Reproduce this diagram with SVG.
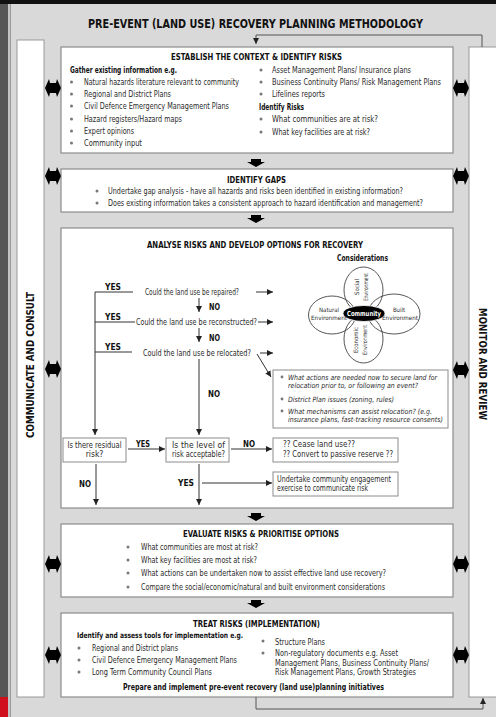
<svg xmlns="http://www.w3.org/2000/svg" width="496" height="717" viewBox="0 0 496 717">
<style>
text{font-family:"Liberation Sans Narrow","DejaVu Sans Condensed","Liberation Sans",sans-serif;fill:#2a2a2a}
.t{font-size:8.5px}
.b{font-size:8.5px;font-weight:bold;fill:#111}
.h{font-size:9.5px;font-weight:bold;fill:#111}
.i{font-size:7.2px;font-style:italic}
.yn{font-size:9px;font-weight:bold;fill:#111}
.s{font-size:6px}
.box{fill:#fff;stroke:#8c8c8c;stroke-width:1.2}
.sbox{fill:#fff;stroke:#8c8c8c;stroke-width:1}
.col{fill:#fff;stroke:#9a9a9a;stroke-width:1}
.dot{fill:#777}
.ln{fill:none;stroke:#333;stroke-width:1}
.fb{fill:none;stroke:#555;stroke-width:1}
.pet{fill:none;stroke:#444;stroke-width:0.9}
</style>
<defs>
<marker id="ah" markerUnits="userSpaceOnUse" markerWidth="7" markerHeight="7" refX="6" refY="3" orient="auto"><path d="M0,0 L6,3 L0,6 z" fill="#222"/></marker>
<path id="bat" d="M-8,0 L-4,-9 L-3,-5 L3,-5 L4,-9 L8,0 L4,9 L3,5 L-3,5 L-4,9 Z" fill="#000"/>
<path id="blk" d="M-5,0 H5 V3 H9 L0,8 L-9,3 H-5 Z" fill="#000"/>
</defs>

<!-- background -->
<rect x="0" y="0" width="496" height="717" fill="#d9d9d9"/>
<rect x="0" y="0" width="8" height="717" fill="#565656"/>
<rect x="8" y="0" width="2" height="717" fill="#c4c4c4"/>
<line x1="10.5" y1="0" x2="10.5" y2="717" stroke="#9a9a9a"/>
<rect x="0" y="0" width="496" height="4" fill="#111"/>
<rect x="0" y="697" width="8" height="20" fill="#d0101c"/>

<text x="255.5" y="27.5" text-anchor="middle" textLength="335" lengthAdjust="spacingAndGlyphs" style="font-size:13px;font-weight:bold;fill:#111">PRE-EVENT (LAND USE) RECOVERY PLANNING METHODOLOGY</text>

<!-- side columns -->
<g id="communicate">
<rect class="col" x="17" y="40" width="27" height="657"/>
<text transform="translate(34,365) rotate(-90)" text-anchor="middle" textLength="146" lengthAdjust="spacingAndGlyphs" style="font-size:10.5px;font-weight:bold;fill:#111">COMMUNICATE AND CONSULT</text>
</g>
<g id="monitor">
<rect class="col" x="469" y="47" width="30" height="650"/>
<text transform="translate(479,364) rotate(90)" text-anchor="middle" textLength="112" lengthAdjust="spacingAndGlyphs" style="font-size:10.5px;font-weight:bold;fill:#111">MONITOR AND REVIEW</text>
</g>

<!-- box 1 -->
<g id="establish">
<rect class="box" x="61" y="47" width="392" height="106"/>
<text class="h" x="256.5" y="60" text-anchor="middle" textLength="171" lengthAdjust="spacingAndGlyphs">ESTABLISH THE CONTEXT &amp; IDENTIFY RISKS</text>
<text class="b" x="70" y="73" textLength="107" lengthAdjust="spacingAndGlyphs">Gather existing information e.g.</text>
<circle class="dot" cx="71.5" cy="82" r="1.5"/><circle class="dot" cx="71.5" cy="94" r="1.5"/><circle class="dot" cx="71.5" cy="106" r="1.5"/><circle class="dot" cx="71.5" cy="119" r="1.5"/><circle class="dot" cx="71.5" cy="131" r="1.5"/><circle class="dot" cx="71.5" cy="143" r="1.5"/>
<text class="t" x="84" y="85" textLength="155" lengthAdjust="spacingAndGlyphs">Natural hazards literature relevant to community</text>
<text class="t" x="84" y="97" textLength="87" lengthAdjust="spacingAndGlyphs">Regional and District Plans</text>
<text class="t" x="84" y="109" textLength="145" lengthAdjust="spacingAndGlyphs">Civil Defence Emergency Management Plans</text>
<text class="t" x="84" y="122" textLength="98" lengthAdjust="spacingAndGlyphs">Hazard registers/Hazard maps</text>
<text class="t" x="84" y="134" textLength="50" lengthAdjust="spacingAndGlyphs">Expert opinions</text>
<text class="t" x="84" y="146" textLength="58" lengthAdjust="spacingAndGlyphs">Community  input</text>
<circle class="dot" cx="261" cy="70" r="1.5"/><circle class="dot" cx="261" cy="82" r="1.5"/><circle class="dot" cx="261" cy="94" r="1.5"/><circle class="dot" cx="261" cy="119" r="1.5"/><circle class="dot" cx="261" cy="132" r="1.5"/>
<text class="t" x="272" y="73" textLength="139" lengthAdjust="spacingAndGlyphs">Asset Management Plans/ Insurance plans</text>
<text class="t" x="272" y="85" textLength="169" lengthAdjust="spacingAndGlyphs">Business Continuity Plans/ Risk Management Plans</text>
<text class="t" x="272" y="97" textLength="53" lengthAdjust="spacingAndGlyphs">Lifelines reports</text>
<text class="b" x="259" y="110" textLength="45" lengthAdjust="spacingAndGlyphs">Identify Risks</text>
<text class="t" x="272" y="122" textLength="106" lengthAdjust="spacingAndGlyphs">What communities are at risk?</text>
<text class="t" x="272" y="135" textLength="98" lengthAdjust="spacingAndGlyphs">What key facilities are at risk?</text>
</g>

<!-- box 2 -->
<g id="gaps">
<rect class="box" x="61" y="169" width="392" height="43"/>
<text class="h" x="256.5" y="182.5" text-anchor="middle" textLength="59" lengthAdjust="spacingAndGlyphs">IDENTIFY GAPS</text>
<circle class="dot" cx="97" cy="191" r="1.5"/><circle class="dot" cx="97" cy="203" r="1.5"/>
<text class="t" x="108" y="194" textLength="295" lengthAdjust="spacingAndGlyphs">Undertake gap analysis - have all hazards and risks been identified in existing information?</text>
<text class="t" x="108" y="206" textLength="315" lengthAdjust="spacingAndGlyphs">Does existing information takes a consistent approach to hazard identification and management?</text>
</g>

<!-- box 3 -->
<g id="analyse">
<rect class="box" x="61" y="228" width="392" height="280"/>
<text class="b" x="255" y="248" text-anchor="middle" textLength="216" lengthAdjust="spacingAndGlyphs">ANALYSE RISKS AND DEVELOP OPTIONS FOR RECOVERY</text>
</g>

<g id="considerations">
<text class="b" x="362.5" y="261" text-anchor="middle" textLength="51" lengthAdjust="spacingAndGlyphs">Considerations</text>
<ellipse class="pet" cx="363.5" cy="290" rx="19.5" ry="23"/>
<ellipse class="pet" cx="363.5" cy="339" rx="19.5" ry="24"/>
<ellipse class="pet" cx="332" cy="315" rx="23.5" ry="19"/>
<ellipse class="pet" cx="394" cy="314" rx="26" ry="20"/>
<ellipse cx="364" cy="313.5" rx="21" ry="8" fill="#000" stroke="#fff" stroke-width="0.8"/>
<text x="364" y="316" text-anchor="middle" textLength="34" lengthAdjust="spacingAndGlyphs" style="font-size:7px;font-weight:bold;fill:#fff">Community</text>
<text class="s" x="329" y="312" text-anchor="middle">Natural</text>
<text class="s" x="329" y="320" text-anchor="middle" textLength="36" lengthAdjust="spacingAndGlyphs">Environment</text>
<text class="s" x="399" y="312" text-anchor="middle">Built</text>
<text class="s" x="400" y="320" text-anchor="middle" textLength="36" lengthAdjust="spacingAndGlyphs">Environment</text>
<text class="s" transform="translate(359,287) rotate(-90)" text-anchor="middle">Social</text>
<text class="s" transform="translate(368,287) rotate(-90)" text-anchor="middle" textLength="28" lengthAdjust="spacingAndGlyphs">Environment</text>
<text class="s" transform="translate(358,340) rotate(-90)" text-anchor="middle">Economic</text>
<text class="s" transform="translate(367,340) rotate(-90)" text-anchor="middle" textLength="30" lengthAdjust="spacingAndGlyphs">Environment</text>
</g>

<g id="q-repaired"><text class="t" x="145" y="295" textLength="94" lengthAdjust="spacingAndGlyphs">Could the land use be repaired?</text></g>
<g id="q-reconstructed"><text class="t" x="136" y="325" textLength="121" lengthAdjust="spacingAndGlyphs">Could the land use be reconstructed?</text></g>
<g id="q-relocated"><text class="t" x="143" y="356" textLength="108" lengthAdjust="spacingAndGlyphs">Could the land use be relocated?</text></g>

<g id="relocation">
<rect class="sbox" x="273" y="370" width="175" height="58"/>
<circle class="dot" cx="282" cy="377" r="1.4"/><circle class="dot" cx="282" cy="399" r="1.4"/><circle class="dot" cx="282" cy="411" r="1.4"/>
<text class="i" x="288" y="379.5" textLength="149" lengthAdjust="spacingAndGlyphs">What actions are needed now to secure land for</text>
<text class="i" x="288" y="387.5" textLength="130" lengthAdjust="spacingAndGlyphs">relocation prior to, or following an event?</text>
<text class="i" x="288" y="401.5" textLength="106" lengthAdjust="spacingAndGlyphs">District Plan issues (zoning, rules)</text>
<text class="i" x="288" y="413.5" textLength="144" lengthAdjust="spacingAndGlyphs">What mechanisms can assist relocation? (e.g.</text>
<text class="i" x="288" y="421.5" textLength="155" lengthAdjust="spacingAndGlyphs">insurance plans, fast-tracking resource consents)</text>
</g>

<g id="residual">
<rect class="sbox" x="63" y="438" width="63" height="24"/>
<text class="t" x="94.5" y="448" text-anchor="middle" textLength="54" lengthAdjust="spacingAndGlyphs">Is there residual</text>
<text class="t" x="94.5" y="457" text-anchor="middle">risk?</text>
</g>
<g id="acceptable">
<rect class="sbox" x="166" y="438" width="63" height="24"/>
<text class="t" x="172" y="448" textLength="53" lengthAdjust="spacing">Is the level of</text>
<text class="t" x="172" y="457" textLength="53" lengthAdjust="spacingAndGlyphs">risk acceptable?</text>
</g>
<g id="cease">
<rect class="sbox" x="273" y="438" width="125" height="24"/>
<text class="t" x="283" y="447" textLength="72" lengthAdjust="spacingAndGlyphs">?? Cease land use??</text>
<text class="t" x="283" y="457" textLength="110" lengthAdjust="spacingAndGlyphs">?? Convert to passive reserve ??</text>
</g>
<g id="engage">
<rect class="sbox" x="273" y="472" width="125" height="24"/>
<text class="t" x="277" y="482" textLength="114" lengthAdjust="spacingAndGlyphs">Undertake community engagement</text>
<text class="t" x="277" y="491" textLength="91" lengthAdjust="spacingAndGlyphs">exercise to communicate risk</text>
</g>

<!-- box 4 -->
<g id="evaluate">
<rect class="box" x="61" y="524" width="392" height="73"/>
<text class="h" x="261" y="536.5" text-anchor="middle" textLength="156" lengthAdjust="spacingAndGlyphs">EVALUATE RISKS &amp; PRIORITISE OPTIONS</text>
<circle class="dot" cx="128" cy="547" r="1.5"/><circle class="dot" cx="128" cy="560" r="1.5"/><circle class="dot" cx="128" cy="573" r="1.5"/><circle class="dot" cx="128" cy="587" r="1.5"/>
<text class="t" x="141" y="550" textLength="117" lengthAdjust="spacingAndGlyphs">What communities are most at risk?</text>
<text class="t" x="141" y="563" textLength="116" lengthAdjust="spacingAndGlyphs">What key facilities are most at risk?</text>
<text class="t" x="141" y="576" textLength="245" lengthAdjust="spacingAndGlyphs">What actions can be undertaken now to assist effective land use recovery?</text>
<text class="t" x="141" y="590" textLength="244" lengthAdjust="spacingAndGlyphs">Compare the social/economic/natural and built environment considerations</text>
</g>

<!-- box 5 -->
<g id="treat">
<rect class="box" x="61" y="613" width="392" height="84"/>
<text class="h" x="193" y="626.5" textLength="127" lengthAdjust="spacingAndGlyphs">TREAT RISKS (IMPLEMENTATION)</text>
<text class="b" x="77" y="637.5" textLength="166" lengthAdjust="spacingAndGlyphs" style="font-size:7.8px">Identify and assess tools for implementation e.g.</text>
<circle class="dot" cx="79" cy="648" r="1.5"/><circle class="dot" cx="79" cy="660" r="1.5"/><circle class="dot" cx="79" cy="672" r="1.5"/>
<text class="t" x="92" y="651" textLength="86" lengthAdjust="spacingAndGlyphs">Regional and District plans</text>
<text class="t" x="92" y="663" textLength="145" lengthAdjust="spacingAndGlyphs">Civil Defence Emergency Management Plans</text>
<text class="t" x="92" y="675" textLength="120" lengthAdjust="spacingAndGlyphs">Long Term Community Council Plans</text>
<circle class="dot" cx="263" cy="641" r="1.5"/><circle class="dot" cx="263" cy="653" r="1.5"/>
<text class="t" x="275" y="644.5" textLength="50" lengthAdjust="spacingAndGlyphs">Structure Plans</text>
<text class="t" x="275" y="656" textLength="123" lengthAdjust="spacingAndGlyphs">Non-regulatory documents e.g. Asset</text>
<text class="t" x="275" y="665.5" textLength="154" lengthAdjust="spacingAndGlyphs">Management Plans, Business Continuity Plans/</text>
<text class="t" x="275" y="675" textLength="141" lengthAdjust="spacingAndGlyphs">Risk Management Plans, Growth Strategies</text>
<text class="b" x="123" y="690" textLength="261" lengthAdjust="spacingAndGlyphs">Prepare and implement pre-event recovery (land use)planning initiatives</text>
</g>

<!-- connectors -->
<g id="connectors">
<use href="#blk" x="256" y="159"/>
<use href="#blk" x="256" y="215"/>
<use href="#blk" x="256" y="513"/>
<use href="#blk" x="256" y="600"/>
<use href="#bat" x="53" y="88"/><use href="#bat" x="461" y="88"/>
<use href="#bat" x="53" y="176"/><use href="#bat" x="461" y="176"/>
<use href="#bat" x="53" y="369"/><use href="#bat" x="461" y="370"/>
<use href="#bat" x="53" y="564"/><use href="#bat" x="461" y="564"/>
<use href="#bat" x="53" y="655"/><use href="#bat" x="461" y="655"/>
<path class="fb" d="M482,47 V35 H256 V44" marker-end="url(#ah)"/>
<path class="fb" d="M256,697 V709 H483 V698" marker-end="url(#ah)"/>
<path class="ln" d="M133,292 H95 V435" marker-end="url(#ah)"/>
<path class="ln" d="M135,322 H95"/>
<path class="ln" d="M132,352 H95"/>
<path class="ln" d="M256,292 H273" marker-end="url(#ah)"/>
<path class="ln" d="M258,322 H273" marker-end="url(#ah)"/>
<path class="ln" d="M260,353 H273" marker-end="url(#ah)"/>
<path class="ln" d="M257,354 L271,377" marker-end="url(#ah)"/>
<path class="ln" d="M199,298 V312" marker-end="url(#ah)"/>
<path class="ln" d="M199,328 V342" marker-end="url(#ah)"/>
<path class="ln" d="M199,359 V435" marker-end="url(#ah)"/>
<path class="ln" d="M128,449 H165" marker-end="url(#ah)"/>
<path class="ln" d="M231,449 H272" marker-end="url(#ah)"/>
<path class="ln" d="M96,464 V505" marker-end="url(#ah)"/>
<path class="ln" d="M199,464 V505" marker-end="url(#ah)"/>
<path class="ln" d="M202,483 H272" marker-end="url(#ah)"/>
<text class="yn" x="105" y="289.5" textLength="16" lengthAdjust="spacingAndGlyphs">YES</text>
<text class="yn" x="105" y="319.5" textLength="16" lengthAdjust="spacingAndGlyphs">YES</text>
<text class="yn" x="105" y="349.5" textLength="16" lengthAdjust="spacingAndGlyphs">YES</text>
<text class="yn" x="209" y="309.5" textLength="11" lengthAdjust="spacingAndGlyphs">NO</text>
<text class="yn" x="209" y="340.5" textLength="11" lengthAdjust="spacingAndGlyphs">NO</text>
<text class="yn" x="208" y="397" textLength="12" lengthAdjust="spacingAndGlyphs">NO</text>
<text class="yn" x="136" y="446.5" textLength="14" lengthAdjust="spacingAndGlyphs">YES</text>
<text class="yn" x="243" y="446.5" textLength="12" lengthAdjust="spacingAndGlyphs">NO</text>
<text class="yn" x="79" y="486.5" textLength="12" lengthAdjust="spacingAndGlyphs">NO</text>
<text class="yn" x="178" y="485.5" textLength="16" lengthAdjust="spacingAndGlyphs">YES</text>
</g>
</svg>
